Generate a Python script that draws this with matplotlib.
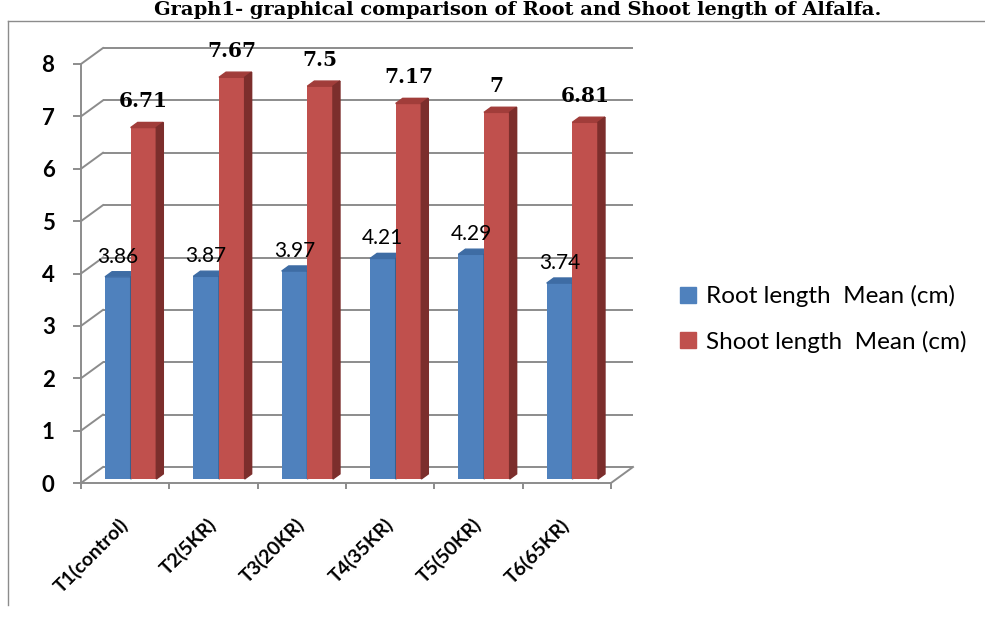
import matplotlib.pyplot as plt
from matplotlib.patches import Polygon, Patch
from matplotlib.lines import Line2D

# data
treatments = ['T1(control)', 'T2(5KR)', 'T3(20KR)', 'T4(35KR)', 'T5(50KR)', 'T6(65KR)']
root_mean = [3.86, 3.87, 3.97, 4.21, 4.29, 3.74]
shoot_mean = [6.71, 7.67, 7.5, 7.17, 7.0, 6.81]
series_names = ['Root length  Mean (cm)', 'Shoot length  Mean (cm)']
yticks = list(range(9))

W, H = 985, 621
fig = plt.figure(figsize=(W / 100, H / 100), dpi=100)

# front plane of the "3d" box, in pixels
x_left, x_right = 81, 611
y_zero, y_top = 483, 64
ax = fig.add_axes([x_left / W, (H - y_zero) / H, (x_right - x_left) / W, (y_zero - y_top) / H])
ax.set_xlim(-0.5, len(treatments) - 0.5)
ax.set_ylim(0, 8)

# depth of the box in data units (22 px right, 16 px up)
px_x = (x_right - x_left) / len(treatments)
px_y = (y_zero - y_top) / 8
DX = 22 / px_x
DY = 16 / px_y
f0, f1 = 0.25, 0.57   # bar front / back depth fractions

grid_col = '#8c8c8c'
n = len(treatments)

# back wall gridlines and left wall diagonals
for v in yticks:
    ax.plot([-0.5 + DX, n - 0.5 + DX], [v + DY, v + DY], color=grid_col, lw=1.4,
            zorder=1, clip_on=False, solid_capstyle='butt')
    ax.plot([-0.5, -0.5 + DX], [v, v + DY], color=grid_col, lw=1.4, zorder=1, clip_on=False)
# floor right edge
ax.plot([n - 0.5, n - 0.5 + DX], [0, DY], color=grid_col, lw=1.4, zorder=1, clip_on=False)

bw = 0.29
styles = [('#4f81bd', '#3e6ca4', '#385f8e'), ('#c0504d', '#a13d3a', '#7c2e2c')]

for si, vals in enumerate([root_mean, shoot_mean]):
    front, top, side = styles[si]
    for i, v in enumerate(vals):
        x0 = i - bw + si * bw
        x1 = x0 + bw
        ax.bar(x0 + f0 * DX, v, width=bw, bottom=f0 * DY, align='edge',
               color=front, zorder=3 + si, clip_on=False)
        ax.add_patch(Polygon([(x0 + f0 * DX, v + f0 * DY), (x1 + f0 * DX, v + f0 * DY),
                              (x1 + f1 * DX, v + f1 * DY), (x0 + f1 * DX, v + f1 * DY)],
                             closed=True, color=top, zorder=3 + si, clip_on=False))
        ax.add_patch(Polygon([(x1 + f0 * DX, f0 * DY), (x1 + f0 * DX, v + f0 * DY),
                              (x1 + f1 * DX, v + f1 * DY), (x1 + f1 * DX, f1 * DY)],
                             closed=True, color=side, zorder=3 + si, clip_on=False))
        cx = x0 + bw / 2 + f0 * DX
        if si == 0:
            ax.annotate(f'{v:g}', xy=(cx, v + f0 * DY), xytext=(0, 14.5),
                        textcoords='offset points', ha='center', va='center',
                        fontsize=15, family='Lato', zorder=10)
        else:
            ax.annotate(f'{v:g}', xy=(cx, v + f0 * DY), xytext=(0, 19),
                        textcoords='offset points', ha='center', va='center',
                        fontsize=14.5, family='DejaVu Serif', fontweight='bold', zorder=10)

# axes lines, ticks, labels
for s in ['top', 'right']:
    ax.spines[s].set_visible(False)
for s in ['left', 'bottom']:
    ax.spines[s].set_color(grid_col)
    ax.spines[s].set_linewidth(1.4)
    ax.spines[s].set_zorder(2)

ax.set_yticks(yticks)
ax.set_yticklabels([str(t) for t in yticks], fontsize=16, fontweight='bold', family='Lato')
ax.tick_params(axis='y', length=6, width=1.4, color=grid_col, pad=13)

ax.set_xticks(range(n))
ax.set_xticks([i - 0.5 for i in range(n + 1)], minor=True)
ax.set_xticklabels(treatments, rotation=45, ha='right', va='center', rotation_mode='anchor',
                   fontsize=14, fontweight='bold', family='Lato')
ax.tick_params(axis='x', which='major', length=0, pad=28)
ax.tick_params(axis='x', which='minor', length=4, width=1.4, color=grid_col)

# legend
handles = [Patch(color=styles[0][0]), Patch(color=styles[1][0])]
fig.legend(handles, series_names, loc='center left', bbox_to_anchor=(680 / W, 1 - 319 / H),
           frameon=False, prop={'family': 'Lato', 'size': 17.5},
           handlelength=0.65, handleheight=0.65, handletextpad=0.4, labelspacing=0.95,
           borderaxespad=0, borderpad=0)

# outer border and title
fig.add_artist(Line2D([8 / W, 1], [1 - 21 / H, 1 - 21 / H], color='#8c8c8c', lw=1))
fig.add_artist(Line2D([8 / W, 8 / W], [1 - 21 / H, 1 - 605 / H], color='#8c8c8c', lw=1))
fig.text(518 / W, 1 - 15 / H, 'Graph1- graphical comparison of Root and Shoot length of Alfalfa.',
         ha='center', va='baseline', fontsize=14, fontweight='bold', family='DejaVu Serif')

fig.savefig('out.png', dpi=100)
